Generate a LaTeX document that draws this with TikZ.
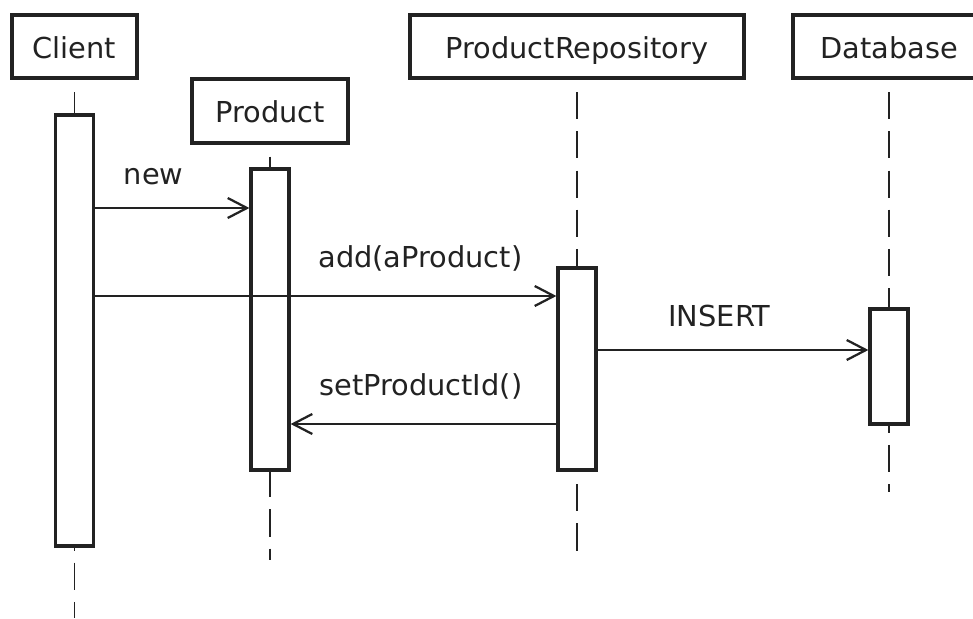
\documentclass[tikz,border=0pt]{standalone}
\usepackage{fontspec}
\setmainfont{DejaVu Sans}
\usetikzlibrary{arrows.meta}

\definecolor{ink}{HTML}{222222}

\begin{document}
\begin{tikzpicture}[x=0.025cm, y=-0.025cm,
    font=\fontsize{20.5}{24}\selectfont, text=ink,
    head/.style={draw=ink, line width=2.8pt, fill=white, minimum height=1.58cm,
        text height=0.73cm, text depth=0.15cm},
    act/.style={draw=ink, line width=2.3pt, fill=white, minimum width=0.95cm},
    life/.style={draw=ink, line width=1.2pt, dash pattern=on 0.68cm off 0.3cm, dash phase=0.68cm},
    msg/.style={draw=ink, line width=1.6pt, -{Straight Barb[length=4.8mm, width=5mm]}},
    lbl/.style={anchor=base, yshift=#1}, lbl/.default=0.7cm]

% Page size (pixel grid of the reference)
\useasboundingbox (0,0) rectangle (973,618);

% Message heights
\def\ynew{208}
\def\yadd{296}
\def\yins{350}
\def\yset{424}

% Object heads
\node[head, minimum width=3.125cm] (client)  at (74.5,46.5) {Client};
\node[head, minimum width=3.9cm]   (product) at (270,111)   {Product};
\node[head, minimum width=8.35cm]  (repo)    at (577,46.5)  {ProductRepository};
\node[head, minimum width=4.8cm]   (db)      at (889,46.5)  {Database};

% Ends of the lifelines
\coordinate (client-end)  at (74.5,618);
\coordinate (product-end) at (270,560);
\coordinate (repo-end)    at (577,560);
\coordinate (db-end)      at (889,492);

% Lifelines (dashed)
\foreach \n in {client,product,repo,db} {
    \draw[life] (\n.south) -- (\n-end);
}

% Activation bars
\node[act, minimum height=10.775cm] (client-act)  at (74.5,330.5) {};
\node[act, minimum height=7.525cm]  (product-act) at (270,319.5)  {};
\node[act, minimum height=5.05cm]   (repo-act)    at (577,369)    {};
\node[act, minimum height=2.875cm]  (db-act)      at (889,366.5)  {};

% Messages
\draw[msg] (client-act.east |- 0,\ynew) -- (product-act.west |- 0,\ynew)
    node[lbl=0.58cm, pos=0.38] {new};
\draw[msg] (client-act.east |- 0,\yadd) -- (repo-act.west |- 0,\yadd)
    node[lbl, pos=0.705] {add(aProduct)};
\draw[msg] (repo-act.east |- 0,\yins) -- (db-act.west |- 0,\yins)
    node[lbl=0.58cm, pos=0.45] {INSERT};
\draw[msg] (repo-act.west |- 0,\yset) -- (product-act.east |- 0,\yset)
    node[lbl, pos=0.51] {setProductId()};

\end{tikzpicture}
\end{document}
